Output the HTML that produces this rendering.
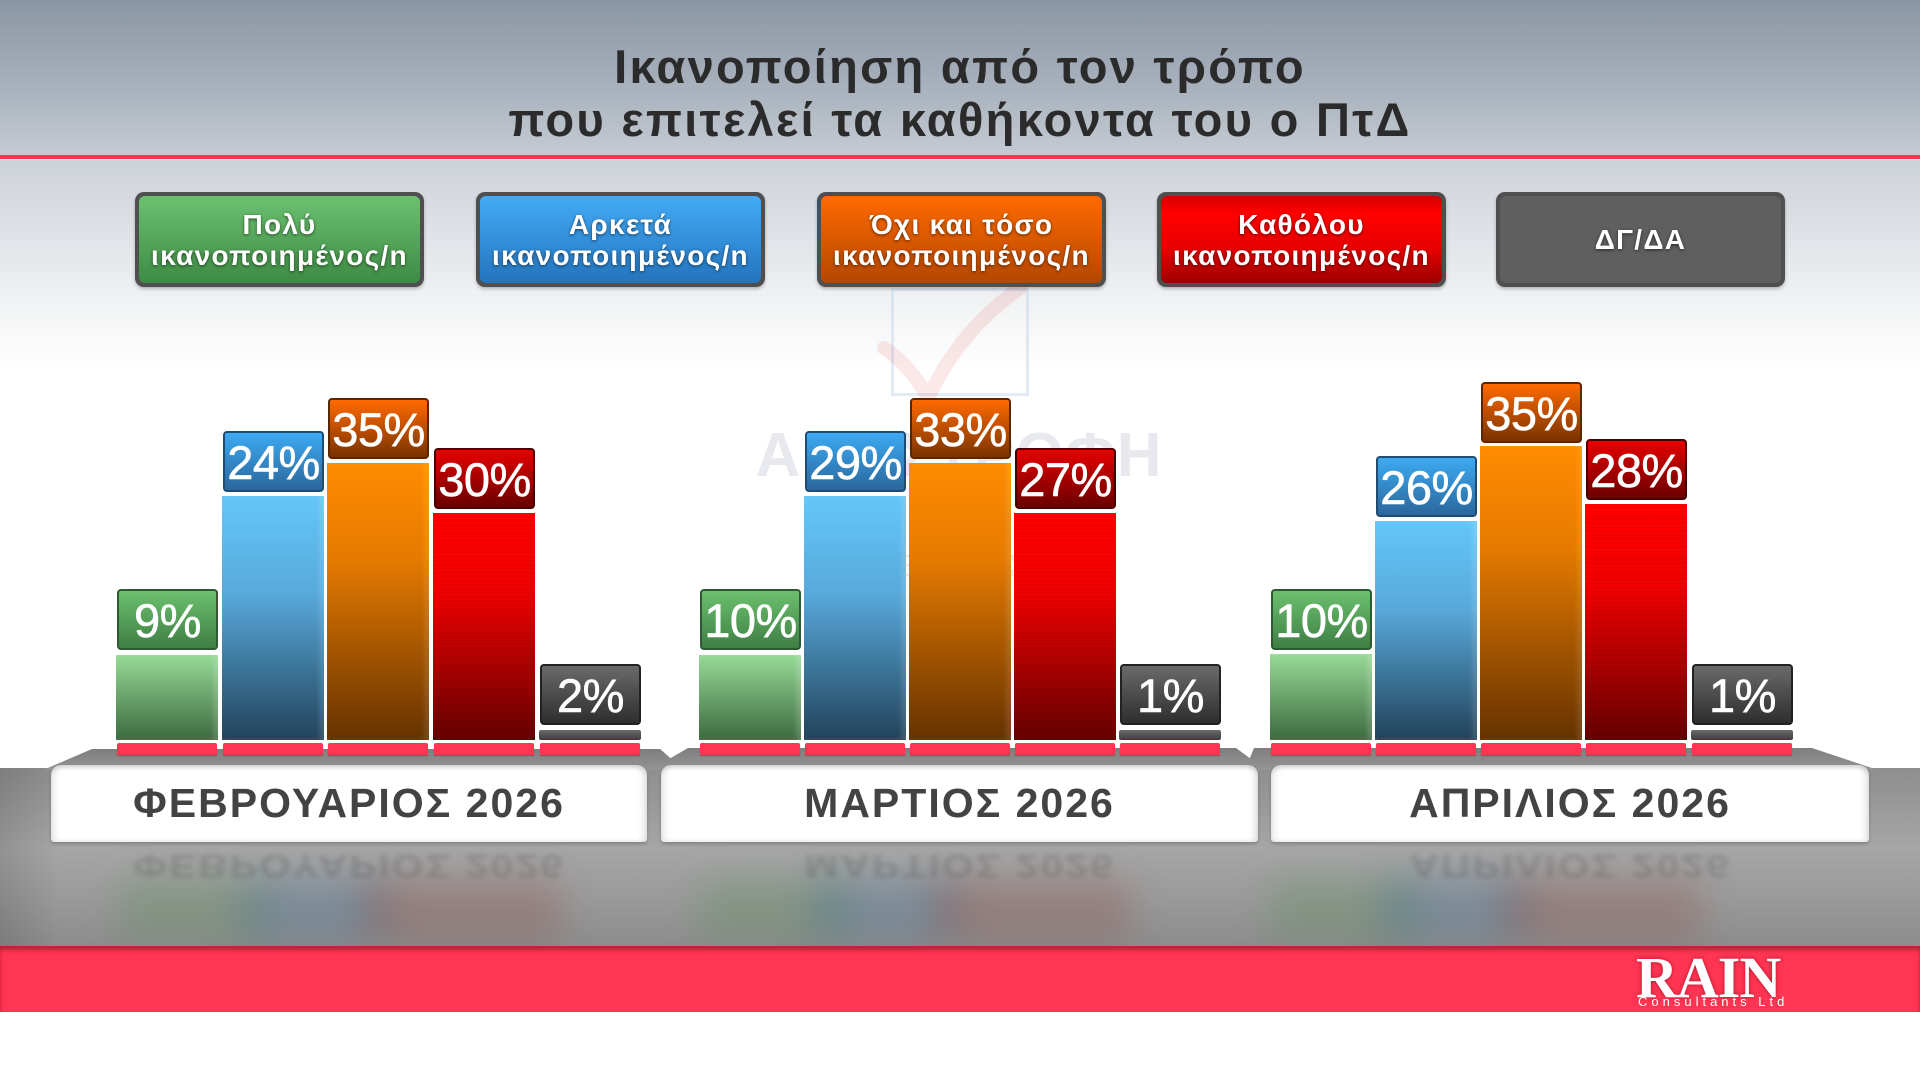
<!DOCTYPE html>
<html>
<head>
<meta charset="utf-8">
<style>
*{margin:0;padding:0;box-sizing:border-box;}
html,body{width:1920px;height:1080px;overflow:hidden;}
body{position:relative;font-family:"Liberation Sans","DejaVu Sans",sans-serif;
background:linear-gradient(to bottom,#8b96a4 0px,#a9b2bd 90px,#c5cbd3 155px,#cdd2d9 160px,#e3e6ea 250px,#f5f6f7 320px,#ffffff 370px,#ffffff 1080px);}
.abs{position:absolute;}
.title{position:absolute;left:0;width:1920px;text-align:center;font-weight:bold;font-size:47px;color:#2b2b2b;letter-spacing:2.3px;line-height:53px;top:40px;}
.redline{position:absolute;left:0;top:155px;width:1920px;height:4px;background:#f23650;box-shadow:0 1px 0 rgba(255,255,255,0.4);}
.leg{position:absolute;top:192px;width:289px;height:95px;border-radius:9px;background:#4f4f4f;padding:4px;box-shadow:0 2px 3px rgba(0,0,0,0.25);}
.leg .in{width:100%;height:100%;border-radius:6px;display:flex;align-items:center;justify-content:center;text-align:center;color:#fff;font-weight:bold;font-size:28px;line-height:31px;letter-spacing:1.3px;text-shadow:0 1px 3px rgba(0,0,0,0.6);}
.wm1{position:absolute;left:755px;top:420px;width:408px;text-align:center;font-weight:bold;font-size:62px;color:#e7e9ee;letter-spacing:1px;}
.wm2{position:absolute;left:755px;top:548px;width:408px;text-align:center;font-size:31px;color:#e9ebef;}
.lbl{position:absolute;width:101px;height:61px;border-radius:4px;color:#fff;font-size:47px;line-height:59px;text-align:center;-webkit-text-stroke:0.6px #fff;letter-spacing:-0.5px;}
.bar{position:absolute;width:102px;}
.strip{position:absolute;top:743px;height:12px;width:100px;background:#ff3553;border-radius:2px 2px 1px 1px;box-shadow:0 1px 1px rgba(120,0,20,0.4);}
.g-l{background:linear-gradient(#6cc06e,#3f7f45);border:2px solid #2e5a33;}
.b-l{background:linear-gradient(#3daaf2,#2a679c);border:2px solid #1f4c73;}
.o-l{background:linear-gradient(#ff6a00,#7a3300);border:2px solid #5a2700;}
.r-l{background:linear-gradient(#e60000,#6a0000);border:2px solid #4a0000;}
.k-l{background:linear-gradient(#6a6a6a,#2e2e2e);border:2px solid #222;}
.g-b{background:linear-gradient(#97da97,#3c6a3f);box-shadow:inset -5px 0 4px rgba(255,255,255,0.15);}
.b-b{background:linear-gradient(#64c6fa 0%,#58a9db 40%,#22435a 100%);box-shadow:inset -5px 0 4px rgba(255,255,255,0.12);}
.o-b{background:linear-gradient(#ff8c00 0%,#e57a00 35%,#653200 100%);box-shadow:inset -5px 0 4px rgba(255,255,255,0.1);}
.r-b{background:repeating-linear-gradient(rgba(0,0,0,0) 0 3px,rgba(0,0,0,0.05) 3px 4px),linear-gradient(#ff0000 0%,#f00000 35%,#650000 100%);}
.k-b{background:linear-gradient(#6a6a6a,#3c3c3c);border-radius:2px;}
.month{position:absolute;top:765px;height:77px;background:#fff;border-radius:10px 10px 3px 3px;box-shadow:inset 0 3px 4px rgba(0,0,0,0.12),inset -5px 0 6px rgba(0,0,0,0.08),inset 5px 0 6px rgba(0,0,0,0.06),0 2px 3px rgba(0,0,0,0.2);text-align:center;font-weight:bold;font-size:41px;line-height:77px;color:#434343;letter-spacing:2px;}
.refl{position:absolute;top:846px;height:40px;text-align:center;font-weight:bold;font-size:41px;line-height:40px;color:rgba(60,60,60,0.22);letter-spacing:2px;transform:scaleY(-0.8);transform-origin:center;filter:blur(3px);}
.blob{position:absolute;filter:blur(18px);opacity:0.25;}
</style>
</head>
<body>

<div class="title">Ικανοποίηση από τον τρόπο<br>που επιτελεί τα καθήκοντα του ο ΠτΔ</div>
<div class="redline"></div>

<!-- watermark -->
<div class="abs" style="left:891px;top:288px;width:138px;height:108px;border:3px solid rgba(190,210,232,0.45);"></div>
<svg class="abs" style="left:870px;top:280px;" width="180" height="130"><path d="M14 68 Q40 85 58 118 Q90 50 150 8" fill="none" stroke="rgba(225,80,80,0.13)" stroke-width="14" stroke-linecap="round"/></svg>
<div class="wm1">ΑΠΟΣΤΡΟΦΗ</div>
<div class="wm2">ΒΟΥΛΕΥΤΙΚΕΣ 2026</div>

<!-- legend -->
<div class="leg" style="left:135px;"><div class="in" style="background:linear-gradient(#6cc170,#3e8b45);">Πολύ<br>ικανοποιημένος/n</div></div>
<div class="leg" style="left:476px;"><div class="in" style="background:linear-gradient(#43abf6,#2474bd);">Αρκετά<br>ικανοποιημένος/n</div></div>
<div class="leg" style="left:817px;"><div class="in" style="background:linear-gradient(#ff6a00,#b44700);">Όχι και τόσο<br>ικανοποιημένος/n</div></div>
<div class="leg" style="left:1157px;"><div class="in" style="background:linear-gradient(#d40000 0%,#ff0000 20%,#e80000 60%,#9e0000 100%);">Καθόλου<br>ικανοποιημένος/n</div></div>
<div class="leg" style="left:1496px;"><div class="in" style="background:#5f5f5f;">ΔΓ/ΔΑ</div></div>

<!-- floor -->
<div class="abs" style="left:0;top:768px;width:1920px;height:178px;background:linear-gradient(to bottom,#8e8e8e 0px,#a6a6a6 80px,#9a9a9a 130px,#8c8c8c 178px);"></div>
<div class="abs" style="left:0;top:768px;width:60px;height:178px;background:linear-gradient(to right,rgba(0,0,0,0.12),rgba(0,0,0,0));"></div>
<div class="blob" style="left:120px;top:880px;width:150px;height:60px;background:#4c8a4c;"></div>
<div class="blob" style="left:240px;top:880px;width:150px;height:60px;background:#2f6a9a;"></div>
<div class="blob" style="left:360px;top:880px;width:200px;height:60px;background:#8a3a30;"></div>
<div class="blob" style="left:700px;top:880px;width:150px;height:60px;background:#4c8a4c;"></div>
<div class="blob" style="left:810px;top:880px;width:150px;height:60px;background:#2f6a9a;"></div>
<div class="blob" style="left:930px;top:880px;width:200px;height:60px;background:#8a3a30;"></div>
<div class="blob" style="left:1270px;top:880px;width:150px;height:60px;background:#4c8a4c;"></div>
<div class="blob" style="left:1380px;top:880px;width:150px;height:60px;background:#2f6a9a;"></div>
<div class="blob" style="left:1500px;top:880px;width:200px;height:60px;background:#8a3a30;"></div>

<!-- shelves -->
<svg class="abs" style="left:0;top:0;" width="1920" height="1080">
<defs><linearGradient id="sh" x1="0" y1="0" x2="0" y2="1"><stop offset="0" stop-color="#7e7e7e"/><stop offset="1" stop-color="#949494"/></linearGradient></defs>
<polygon points="43,770 92,749 660,749 684,770" fill="url(#sh)"/>
<polygon points="650,770 688,748 1236,748 1266,770" fill="url(#sh)"/>
<polygon points="1245,770 1254,748 1812,748 1878,770" fill="url(#sh)"/>
</svg>

<!-- reflections -->
<div class="refl" style="left:51px;width:596px;">ΦΕΒΡΟΥΑΡΙΟΣ 2026</div>
<div class="refl" style="left:661px;width:597px;">ΜΑΡΤΙΟΣ 2026</div>
<div class="refl" style="left:1271px;width:598px;">ΑΠΡΙΛΙΟΣ 2026</div>

<!-- month boxes -->
<div class="month" style="left:51px;width:596px;">ΦΕΒΡΟΥΑΡΙΟΣ 2026</div>
<div class="month" style="left:661px;width:597px;">ΜΑΡΤΙΟΣ 2026</div>
<div class="month" style="left:1271px;width:598px;">ΑΠΡΙΛΙΟΣ 2026</div>

<!-- Group 1 -->
<div class="bar g-b" style="left:116px;top:655px;height:85px;"></div>
<div class="bar b-b" style="left:222px;top:496px;height:244px;"></div>
<div class="bar o-b" style="left:327px;top:463px;height:277px;"></div>
<div class="bar r-b" style="left:433px;top:513px;height:227px;"></div>
<div class="bar k-b" style="left:539px;top:730px;height:10px;"></div>
<div class="lbl g-l" style="left:117px;top:589px;">9%</div>
<div class="lbl b-l" style="left:223px;top:431px;">24%</div>
<div class="lbl o-l" style="left:328px;top:398px;">35%</div>
<div class="lbl r-l" style="left:434px;top:448px;">30%</div>
<div class="lbl k-l" style="left:540px;top:664px;">2%</div>
<div class="strip" style="left:117px;"></div>
<div class="strip" style="left:223px;"></div>
<div class="strip" style="left:328px;"></div>
<div class="strip" style="left:434px;"></div>
<div class="strip" style="left:540px;"></div>

<!-- Group 2 -->
<div class="bar g-b" style="left:699px;top:655px;height:85px;"></div>
<div class="bar b-b" style="left:804px;top:496px;height:244px;"></div>
<div class="bar o-b" style="left:909px;top:463px;height:277px;"></div>
<div class="bar r-b" style="left:1014px;top:513px;height:227px;"></div>
<div class="bar k-b" style="left:1119px;top:730px;height:10px;"></div>
<div class="lbl g-l" style="left:700px;top:589px;">10%</div>
<div class="lbl b-l" style="left:805px;top:431px;">29%</div>
<div class="lbl o-l" style="left:910px;top:398px;">33%</div>
<div class="lbl r-l" style="left:1015px;top:448px;">27%</div>
<div class="lbl k-l" style="left:1120px;top:664px;">1%</div>
<div class="strip" style="left:700px;"></div>
<div class="strip" style="left:805px;"></div>
<div class="strip" style="left:910px;"></div>
<div class="strip" style="left:1015px;"></div>
<div class="strip" style="left:1120px;"></div>

<!-- Group 3 -->
<div class="bar g-b" style="left:1270px;top:654px;height:86px;"></div>
<div class="bar b-b" style="left:1375px;top:521px;height:219px;"></div>
<div class="bar o-b" style="left:1480px;top:446px;height:294px;"></div>
<div class="bar r-b" style="left:1585px;top:504px;height:236px;"></div>
<div class="bar k-b" style="left:1691px;top:730px;height:10px;"></div>
<div class="lbl g-l" style="left:1271px;top:589px;">10%</div>
<div class="lbl b-l" style="left:1376px;top:456px;">26%</div>
<div class="lbl o-l" style="left:1481px;top:382px;">35%</div>
<div class="lbl r-l" style="left:1586px;top:439px;">28%</div>
<div class="lbl k-l" style="left:1692px;top:664px;">1%</div>
<div class="strip" style="left:1271px;"></div>
<div class="strip" style="left:1376px;"></div>
<div class="strip" style="left:1481px;"></div>
<div class="strip" style="left:1586px;"></div>
<div class="strip" style="left:1692px;"></div>

<!-- bottom band -->
<div class="abs" style="left:0;top:946px;width:1920px;height:66px;background:#ff3553;box-shadow:inset 0 4px 4px rgba(120,0,20,0.45);"></div>
<div class="abs" style="left:1636px;top:946px;width:170px;height:50px;font-family:'Liberation Serif',serif;font-weight:bold;font-size:58px;line-height:56px;color:#fff;letter-spacing:-1px;text-shadow:0 0 4px rgba(120,0,20,0.6);padding-top:4px;">RAIN</div>
<div class="abs" style="left:1638px;top:995px;width:170px;font-size:13px;line-height:14px;color:#fff;letter-spacing:4px;">Consultants Ltd</div>

</body>
</html>
